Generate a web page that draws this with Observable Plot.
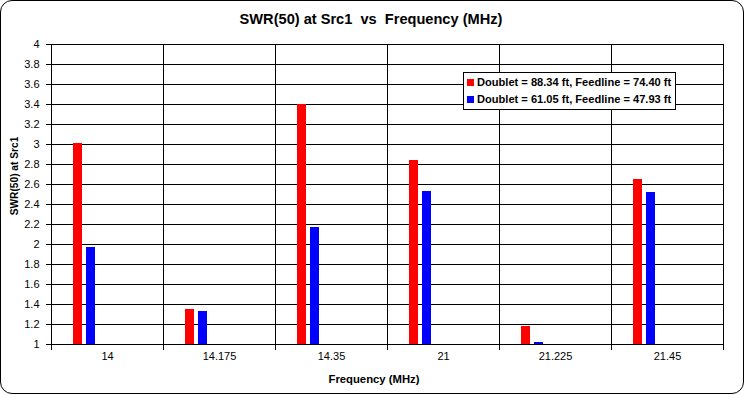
<!DOCTYPE html>
<html>
<head>
<meta charset="utf-8">
<script src="https://cdn.jsdelivr.net/npm/d3@7"></script>
<script src="https://cdn.jsdelivr.net/npm/@observablehq/plot@0.6"></script>
<style>
  body { margin: 0; background: #fff; font-family: "Liberation Sans", Arial, sans-serif; }
  #wrap { position: relative; width: 745px; height: 395px; overflow: hidden; background: #fff; }
  #border { position: absolute; left: 0; top: 0; width: 742px; height: 392px; border: 1px solid #000; border-radius: 12px; pointer-events: none; }
  #title { position: absolute; left: 0; top: 11px; width: 742px; text-align: center; font-weight: bold; font-size: 14.6px; line-height: 17px; color: #000; }
  #chart { position: absolute; left: 0; top: 30px; }
  #xlabel { position: absolute; left: 274px; width: 200px; top: 372px; text-align: center; font-weight: bold; font-size: 11.3px; line-height: 14px; }
  #ylabel { position: absolute; left: 15px; top: 176px; transform: translate(-50%, -50%) rotate(-90deg); white-space: nowrap; font-weight: bold; font-size: 10.2px; line-height: 12px; }
  #legend { position: absolute; left: 463px; top: 72px; width: 211px; height: 36px; border: 1px solid #000; background: #fff; font-weight: bold; font-size: 11.1px; }
  .row { position: absolute; left: 3px; height: 13px; line-height: 13px; white-space: nowrap; }
  .sw { display: inline-block; width: 7px; height: 7px; margin-right: 3px; vertical-align: 0px; }
</style>
</head>
<body>
<div id="wrap">
  <div id="title">SWR(50) at Src1&nbsp; vs&nbsp; Frequency (MHz)</div>
  <div id="chart"></div>
  <div id="xlabel">Frequency (MHz)</div>
  <div id="ylabel">SWR(50) at Src1</div>
  <div id="legend"></div>
  <div id="border"></div>
</div>
<script>
const frequencies = ["14", "14.175", "14.35", "21", "21.225", "21.45"];
const seriesNames = ["Doublet = 88.34 ft, Feedline = 74.40 ft", "Doublet = 61.05 ft, Feedline = 47.93 ft"];
const swrLong = [3.01, 1.35, 3.40, 2.84, 1.18, 2.65];
const swrShort = [1.97, 1.33, 2.17, 2.53, 1.02, 2.52];
const seriesColors = ["#ff0000", "#0000ff"];
const yTicks = [1, 1.2, 1.4, 1.6, 1.8, 2, 2.2, 2.4, 2.6, 2.8, 3, 3.2, 3.4, 3.6, 3.8, 4];
const yMin = 1, yMax = 4;

const data = frequencies.flatMap((f, i) => [
  {freq: f, series: seriesNames[0], swr: swrLong[i]},
  {freq: f, series: seriesNames[1], swr: swrShort[i]}
]);

const fmt = d => String(+d.toFixed(1));

const chart = Plot.plot({
  width: 745,
  height: 365,
  marginTop: 14,
  marginBottom: 51,
  marginLeft: 50,
  marginRight: 21,
  style: {fontFamily: "'Liberation Sans', Arial, sans-serif", fontSize: "11px", color: "#000", background: "transparent"},
  fx: {domain: frequencies, padding: 0, label: null},
  x: {domain: seriesNames, paddingInner: 0.2857, paddingOuter: 3.15, align: 0.25, axis: null},
  y: {domain: [yMin, yMax], label: null},
  color: {domain: seriesNames, range: seriesColors},
  marks: [
    Plot.gridY(yTicks, {stroke: "#000", strokeOpacity: 1, strokeWidth: 1}),
    Plot.frame({anchor: "left", stroke: "#000", insetBottom: -5}),
    Plot.frame({anchor: "right", stroke: "#000", insetBottom: -5}),
    Plot.barY(data, {fx: "freq", x: "series", y1: d => yMin, y2: "swr", fill: "series", insetLeft: 0, insetRight: 0}),
    Plot.axisY(yTicks, {tickSize: 5, tickPadding: 7, tickFormat: fmt, label: null, stroke: "#000", fontSize: 11}),
    Plot.axisFx({anchor: "bottom", tickSize: 0, tickPadding: 8, label: null, fontSize: 11})
  ]
});
document.getElementById("chart").appendChild(chart);

const legend = document.getElementById("legend");
seriesNames.forEach((name, i) => {
  const row = document.createElement("div");
  row.className = "row";
  row.style.top = (i === 0 ? 3 : 20) + "px";
  const sw = document.createElement("span");
  sw.className = "sw";
  sw.style.background = seriesColors[i];
  row.appendChild(sw);
  row.appendChild(document.createTextNode(name));
  legend.appendChild(row);
});
</script>
</body>
</html>
